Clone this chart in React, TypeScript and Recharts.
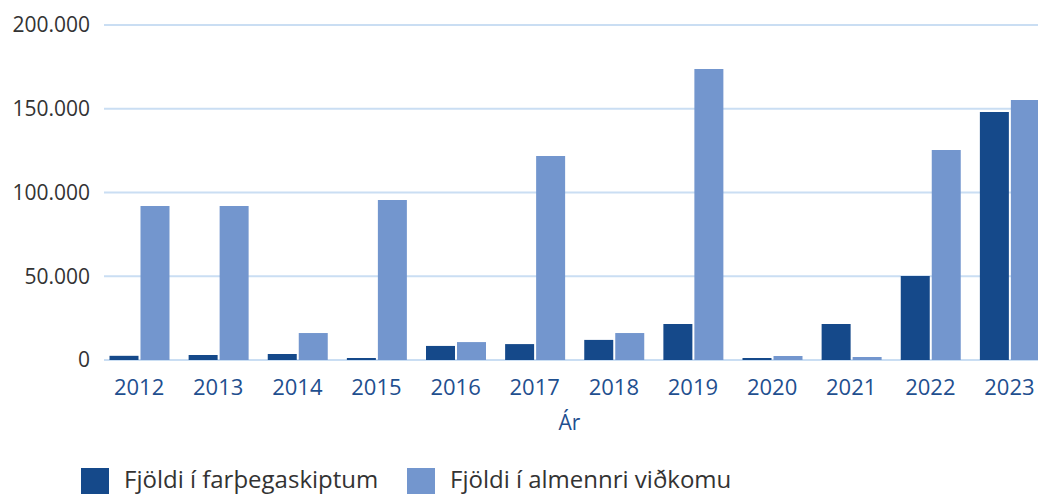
import React from "react";
import {
  BarChart,
  Bar,
  XAxis,
  YAxis,
  CartesianGrid,
  Legend,
} from "recharts";

const years = ["2012", "2013", "2014", "2015", "2016", "2017", "2018", "2019", "2020", "2021", "2022", "2023"];
const farthegaskipti = [2500, 3000, 3600, 1200, 8400, 9500, 12000, 21500, 1200, 21500, 50100, 148000];
const almennViskoma = [91900, 92000, 16100, 95500, 10700, 121800, 16100, 173700, 2400, 1800, 125400, 155200];
const yTicks = [0, 50000, 100000, 150000, 200000];

const seriesNames = ["Fjöldi í farþegaskiptum", "Fjöldi í almennri viðkomu"];
const seriesColors = ["#15498a", "#7396ce"];

const chartData = years.map((year, i) => ({
  year,
  farthega: farthegaskipti[i],
  almenn: almennViskoma[i],
}));

const font = "'Open Sans', sans-serif";

const formatThousands = (v: number) =>
  String(v).replace(/\B(?=(\d{3})+(?!\d))/g, ".");

const LegendContent = () => (
  <div style={{ display: "flex", paddingTop: 11, marginLeft: 81, fontFamily: font }}>
    {seriesNames.map((name, i) => (
      <div
        key={name}
        style={{ display: "flex", alignItems: "flex-start", width: i === 0 ? 326 : "auto" }}
      >
        <span
          style={{
            display: "inline-block",
            width: 28,
            height: 28,
            background: seriesColors[i],
            marginTop: 3,
            marginRight: 15,
          }}
        />
        <span style={{ fontSize: 24, color: "#333", lineHeight: "28px", whiteSpace: "nowrap" }}>
          {name}
        </span>
      </div>
    ))}
  </div>
);

const App = () => {
  return (
    <div
      style={{
        position: "absolute",
        left: 0,
        top: 0,
        width: 1038,
        height: 494,
        overflow: "hidden",
        background: "#fff",
      }}
    >
      <BarChart
        width={1049}
        height={494}
        data={chartData}
        margin={{ top: 25, right: 0, left: 0, bottom: 0 }}
        barSize={29}
        barGap={2}
      >
        <CartesianGrid vertical={false} stroke="#cadef3" strokeWidth={2} />
        <XAxis
          dataKey="year"
          height={94}
          padding={{ left: -4.5, right: 0 }}
          axisLine={false}
          tickLine={false}
          tickSize={0}
          tickMargin={19}
          tick={{ fill: "#1f4f8f", fontSize: 22, fontFamily: font }}
          interval={0}
          label={{
            value: "Ár",
            position: "insideBottom",
            offset: 24,
            dx: -7,
            fill: "#1f4f8f",
            fontSize: 21,
            fontFamily: font,
          }}
        />
        <YAxis
          width={104}
          domain={[0, 200000]}
          ticks={yTicks}
          axisLine={false}
          tickLine={false}
          tickSize={0}
          tickMargin={14}
          tickFormatter={formatThousands}
          tick={{ fill: "#333", fontSize: 21, fontFamily: font }}
        />
        <Legend verticalAlign="bottom" height={40} content={<LegendContent />} />
        <Bar dataKey="farthega" name={seriesNames[0]} fill={seriesColors[0]} isAnimationActive={false} />
        <Bar dataKey="almenn" name={seriesNames[1]} fill={seriesColors[1]} isAnimationActive={false} />
      </BarChart>
    </div>
  );
};

export default App;
